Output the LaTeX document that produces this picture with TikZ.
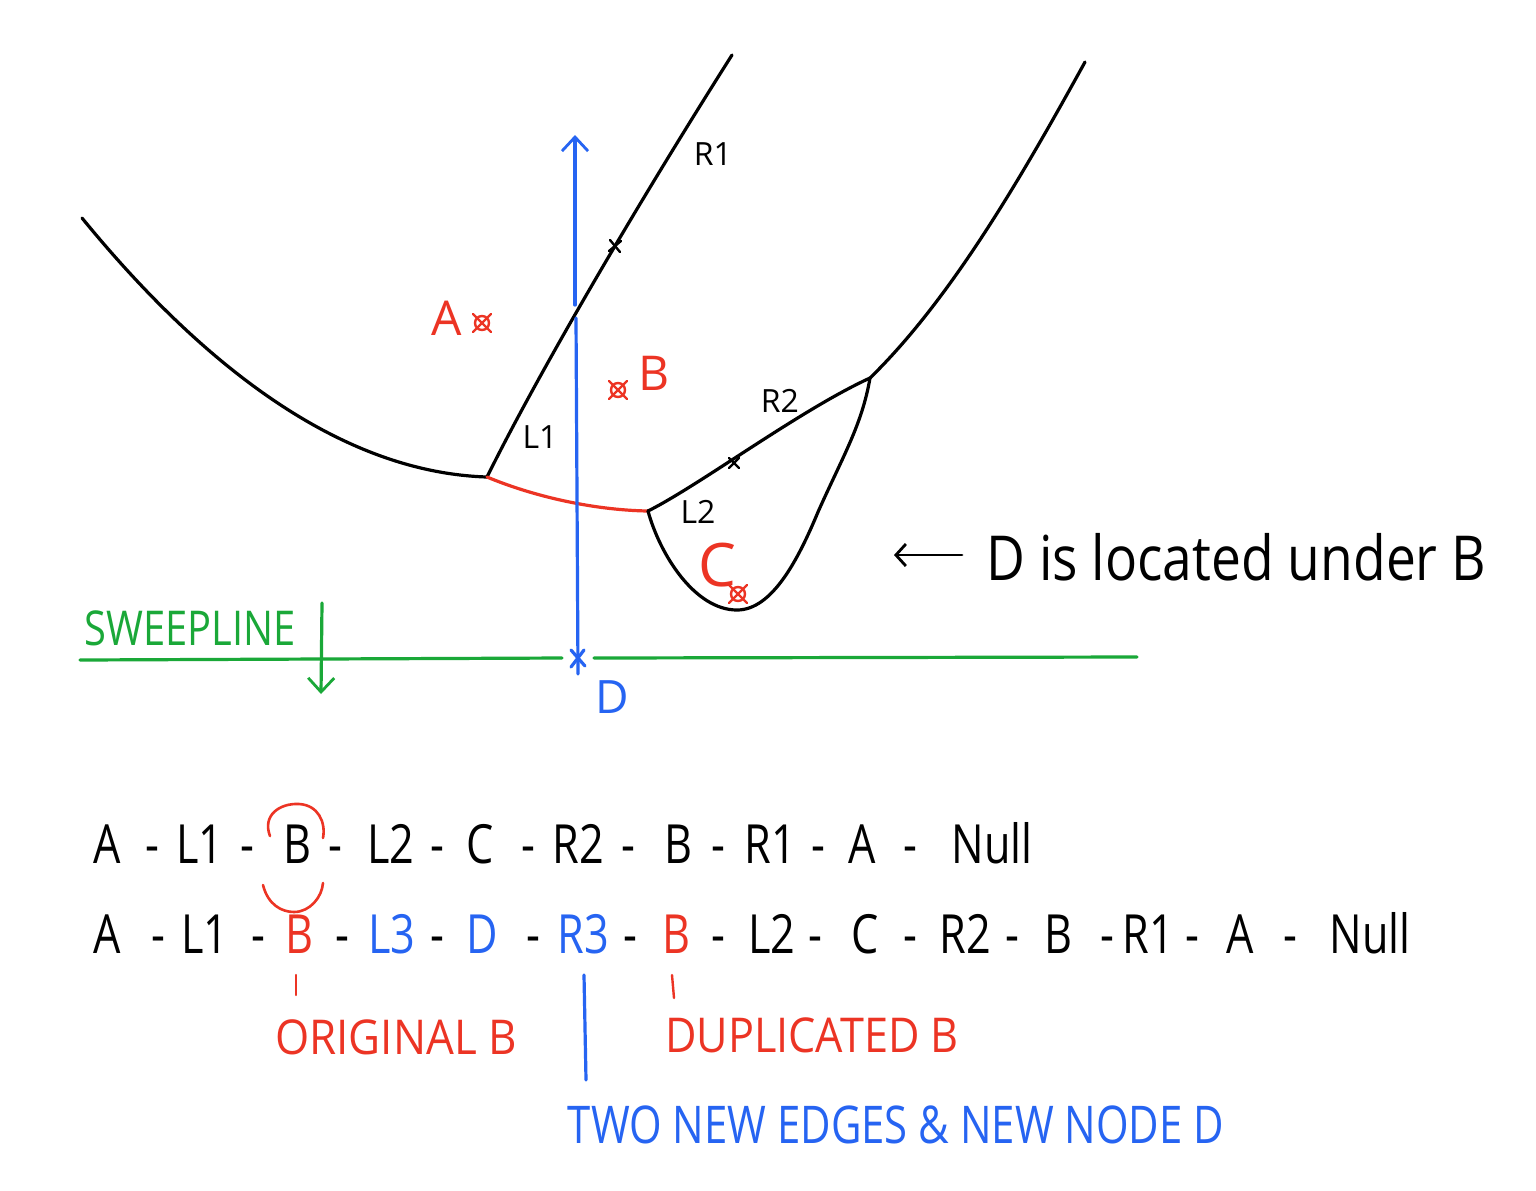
\documentclass[tikz,border=0pt]{standalone}
\usepackage{fontspec}
\setmainfont{Open Sans}
\usetikzlibrary{arrows.meta}
\definecolor{hred}{RGB}{236,52,36}
\definecolor{hblue}{RGB}{38,100,242}
\definecolor{hgreen}{RGB}{26,168,56}
\begin{document}
\begin{tikzpicture}[x=0.5pt,y=-0.5pt,
  curve/.style={line width=1.6pt, line cap=round, line join=round},
  thin/.style={line width=1.2pt, line cap=round},
  barb/.style={-{Straight Barb[length=7pt,width=13pt,line width=1.4pt]}},
  lbl/.style={inner sep=0pt, font=\fontsize{16}{16}\selectfont},
  site/.style={inner sep=0pt, text=hred, font=\fontsize{24}{24}\selectfont},
  tok/.style={inner sep=0pt, anchor=base, font=\fontsize{27}{27}\selectfont},
  note/.style={inner sep=0pt, font=\fontsize{24}{24}\selectfont}]
\useasboundingbox[fill=white] (0,0) rectangle (1536,1190);

% ---------- vertices ----------
\coordinate (lp) at (82,218);
\coordinate (v1) at (487,477);
\coordinate (v2) at (648,511);
\coordinate (v3) at (870,378);
\coordinate (r1end) at (732,55);
\coordinate (rpend) at (1085,62);
\coordinate (cbot) at (737,610);
\coordinate (cmid) at (818,512);

% ---------- beach line & edges ----------
\draw[curve] (lp) .. controls (190,350) and (330,472) .. (v1);
\draw[curve] (v1) .. controls (540,370) and (640,200) .. (r1end);
\draw[curve, hred] (v1) .. controls (530,495) and (590,510) .. (v2);
\draw[curve] (v2) .. controls (700,485) and (800,410) .. (v3);
\draw[curve] (v2) .. controls (660,555) and (695,610) .. (cbot)
   .. controls (772,610) and (798,560) .. (cmid)
   .. controls (842,458) and (862,425) .. (v3);
\draw[curve] (v3) .. controls (950,300) and (1020,180) .. (rpend);

% small crosses on edges
\coordinate (x1) at (615,246);
\coordinate (x2) at (734,463);
\draw[thin] ([shift={(-5,-6)}]x1) -- ([shift={(5,6)}]x1) ([shift={(-6,5)}]x1) -- ([shift={(6,-5)}]x1);
\draw[thin] ([shift={(-5,-5)}]x2) -- ([shift={(5,5)}]x2) ([shift={(-5,5)}]x2) -- ([shift={(5,-5)}]x2);

% ---------- blue vertical ----------
\coordinate (dmark) at (578,658);
\coordinate (bgapb) at (576,318);
\coordinate (bgapt) at (575,305);
\coordinate (btop) at (575,135);
\draw[curve, hblue] ([yshift=-8]dmark) -- (bgapb);
\draw[curve, hblue, barb] (bgapt) -- (btop);
\draw[curve, hblue] ([shift={(-7,-8)}]dmark) -- ([shift={(7,8)}]dmark)
                    ([shift={(-7,9)}]dmark) -- ([shift={(6,-8)}]dmark);
\node[inner sep=0pt, text=hblue, font=\fontsize{23}{23}\selectfont] (dlab) at (612,697) {D};

% ---------- sweepline ----------
\coordinate (swl) at (80,660);
\coordinate (swr) at (1137,657);
\draw[curve, hgreen] (swl) -- ([xshift=-8]dmark);
\draw[curve, hgreen] ([xshift=8]dmark) -- (swr);
\coordinate (sat) at (322,603);
\coordinate (sab) at (321,694);
\draw[curve, hgreen, barb] (sat) -- (sab);
\node[inner sep=0pt, text=hgreen, font=\fontsize{24}{24}\selectfont] (sweep) at (190,628) {\scalebox{0.83}[1]{SWEEPLINE}};

% ---------- sites ----------
\foreach \n/\px/\py in {sa/482/323, sb/618/390, sc/738/594} {
  \coordinate (\n) at (\px,\py);
  \draw[thin, hred] (\n) circle[radius=7];
  \draw[thin, hred] ([shift={(-9,-9)}]\n) -- ([shift={(9,9)}]\n)
                    ([shift={(-9,9)}]\n) -- ([shift={(9,-9)}]\n);
}
\node[site] (la) at (447,318) {A};
\node[site] (lb) at (654,373) {B};
\node[site, font=\fontsize{30}{30}\selectfont] (lc) at (717,565) {C};

% ---------- edge labels ----------
\node[lbl] (tr1) at (713,154) {R1};
\node[lbl] (tl1) at (540,437) {L1};
\node[lbl] (tr2) at (780,401) {R2};
\node[lbl] (tl2) at (698,512) {L2};

% ---------- note ----------
\coordinate (nar) at (962,555);
\coordinate (nal) at (894,555);
\draw[thin, line width=1.4pt, -{Straight Barb[length=5pt,width=11pt,line width=1.4pt]}] (nar) -- (nal);
\node[inner sep=0pt, anchor=west, font=\fontsize{31}{31}\selectfont] (note) at (986,557) {\scalebox{0.86}[1]{D is located under B}};

% ---------- lists ----------
\foreach \x/\t/\c [count=\i] in {107/A/black, 152/-/black, 200/L1/black, 247/-/black, 297/B/black, 335/-/black,
   391/L2/black, 437/-/black, 480/C/black, 528/-/black, 578/R2/black, 628/-/black, 678/B/black, 718/-/black,
   770/R1/black, 818/-/black, 862/A/black, 910/-/black, 992/Null/black}
  \node[tok, text=\c] (ra\i) at (\x,863) {\scalebox{0.8}[1]{\t}};

\foreach \x/\t/\c [count=\i] in {107/A/black, 158/-/black, 205/L1/black, 258/-/black, 299/B/hred, 342/-/black,
   392/L3/hblue, 437/-/black, 482/D/hblue, 533/-/black, 583/R3/hblue, 630/-/black, 676/B/hred, 718/-/black,
   772/L2/black, 815/-/black, 865/C/black, 910/-/black, 965/R2/black, 1012/-/black, 1058/B/black, 1107/-/black,
   1148/R1/black, 1192/-/black, 1240/A/black, 1290/-/black, 1370/Null/black}
  \node[tok, text=\c] (rb\i) at (\x,953) {\scalebox{0.8}[1]{\t}};

% circle around first B
\draw[thin, hred, line width=1.3pt] (270,836) .. controls (262,815) and (280,803) .. (299,804)
   .. controls (318,805) and (326,822) .. (323,838);
\draw[thin, hred, line width=1.3pt] (263,885) .. controls (268,905) and (282,912) .. (294,912)
   .. controls (310,912) and (322,897) .. (323,883);

% ticks
\coordinate (t1a) at (296,975); \coordinate (t1b) at (296,995);
\coordinate (t2a) at (672,975); \coordinate (t2b) at (674,998);
\coordinate (t3a) at (584,975); \coordinate (t3b) at (586,1080);
\draw[thin, hred] (t1a) -- (t1b);
\draw[thin, hred] (t2a) -- (t2b);
\draw[curve, hblue] (t3a) -- (t3b);

\node[note, text=hred] (orig) at (396,1037) {\scalebox{0.915}[1]{ORIGINAL B}};
\node[note, text=hred] (dup) at (812,1035) {\scalebox{0.9}[1]{DUPLICATED B}};
\node[note, text=hblue, font=\fontsize{26}{26}\selectfont] (two) at (896,1125) {\scalebox{0.805}[1]{TWO NEW EDGES \& NEW NODE D}};
\end{tikzpicture}
\end{document}
